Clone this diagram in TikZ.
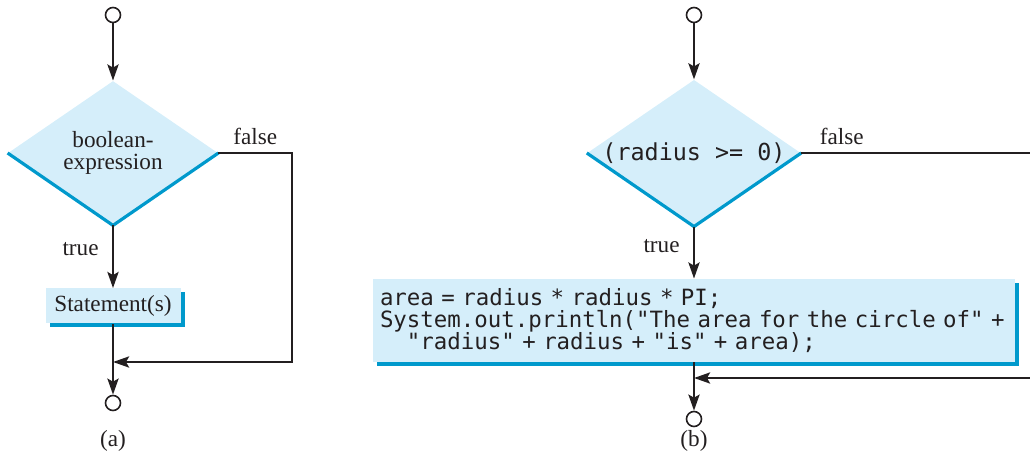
\documentclass[tikz,border=0pt]{standalone}
\usepackage{fontspec}
\setmainfont{Liberation Serif}
\setmonofont{DejaVu Sans Mono}
\usetikzlibrary{shapes.geometric, arrows.meta, shadows}
\definecolor{boxfill}{RGB}{213,238,250}
\definecolor{boxedge}{RGB}{0,153,204}
\definecolor{ink}{RGB}{35,31,32}
\newcommand{\codefont}[1]{\ttfamily\fontsize{#1}{11}\selectfont}
\tikzstyle{arrow} = [ink, line width=1.4pt, -{Stealth[length=8pt,width=5.5pt,inset=1.5pt]}]
\tikzstyle{edge} = [boxedge, line width=1.6pt]
\tikzstyle{terminal} = [circle, draw=ink, line width=0.8pt, minimum size=7.5pt, inner sep=0pt]
\tikzstyle{decision} = [diamond, fill=boxfill, minimum width=105pt, minimum height=72pt, inner sep=0pt, aspect=1.46]
\tikzstyle{process} = [rectangle, fill=boxfill, drop shadow={shadow xshift=2pt, shadow yshift=-2pt, fill=boxedge, opacity=1}]
\tikzstyle{tag} = [font=\fontsize{11.6}{11}\selectfont, inner sep=0pt, text=ink]
\tikzstyle{code} = [font=\codefont{11.2}, text=ink]

\begin{document}
\begin{tikzpicture}[x=0.5pt,y=-0.5pt]
		\useasboundingbox (0,0) rectangle (1030,465);
		% (a) general form
		\node[terminal] (sa) at (113,15) {};
		\node[decision, tag, align=center] (da) at (113,153) {boolean-\\expression};
		\draw[edge] (da.west) -- (da.south) -- (da.east);
		\node[process, tag, minimum width=67.5pt, minimum height=17.5pt] (ba) at (113,306) {Statement(s)};
		\node[terminal] (ea) at (113,403) {};
		\coordinate (ja) at (113,362);
		\coordinate (ra) at (292,362);
		\draw[arrow] (sa) -- (da);
		\draw[arrow] (da) -- node[tag, left=6.5pt, pos=0.38] {true} (ba);
		\draw[arrow] (da.east) -| node[tag, above=3.5pt, pos=0.25] {false} (ra) -- (ja);
		\draw[arrow] (ba) -- (ea);
		\node[tag] (capa) at (113,441) {(a)};
		% (b) example
		\node[terminal] (sb) at (694,15) {};
		\node[decision, code, font=\codefont{11.7}] (db) at (694,153) {(radius >= 0)};
		\draw[edge] (db.west) -- (db.south) -- (db.east);
		\node[process, code, text width=314pt, inner xsep=3.5pt, minimum height=41.5pt] (bb) at (694,320.5) {area = radius * radius * PI;\\
			System.out.println("The area for the circle of" +\\
			\hphantom{xx}"radius" + radius + "is" + area);};
		\node[terminal] (eb) at (694,419) {};
		\coordinate (jb) at (694,378);
		\coordinate (rb) at (1040,378);
		\draw[arrow] (sb) -- (db);
		\draw[arrow] (db) -- node[tag, left=6.5pt, pos=0.37] {true} (bb);
		\draw[arrow] (db.east) -| node[tag, above=3.5pt, pos=0.085] {false} (rb) -- (jb);
		\draw[arrow] (bb) -- (eb);
		\node[tag] (capb) at (694,441) {(b)};
\end{tikzpicture}
\end{document}
